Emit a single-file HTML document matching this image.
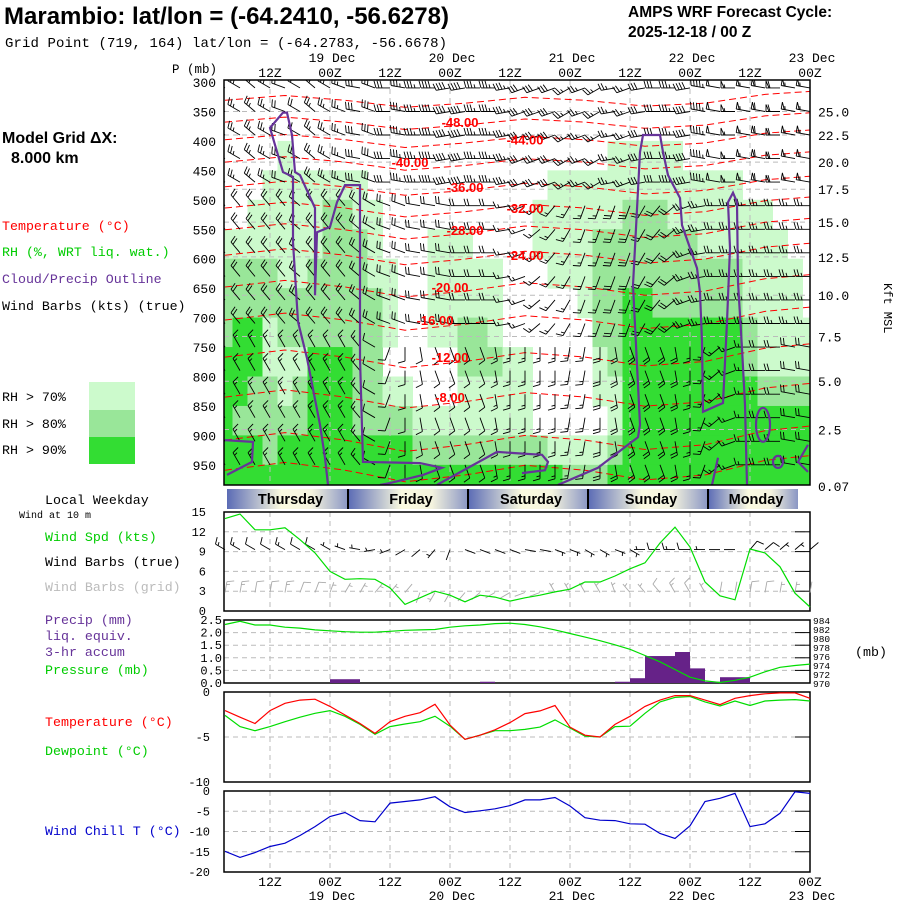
<!DOCTYPE html>
<html><head><meta charset="utf-8"><style>
body{margin:0;background:#fff}
svg{display:block}
text{font-family:"Liberation Mono",monospace}
</style></head><body>
<svg id="c" width="900" height="900" viewBox="0 0 900 900" xmlns="http://www.w3.org/2000/svg">
<rect width="900" height="900" fill="#fff"/>
<g>
<text x="4" y="24" style="font-family:'Liberation Sans',sans-serif;font-weight:bold;font-size:24px" textLength="445">Marambio:  lat/lon = (-64.2410, -56.6278)</text>
<text x="5" y="47" font-size="14" textLength="442">Grid Point (719, 164) lat/lon = (-64.2783, -56.6678)</text>
<text x="628" y="17" style="font-family:'Liberation Sans',sans-serif;font-weight:bold;font-size:15.5px">AMPS WRF Forecast Cycle:</text>
<text x="628" y="37" style="font-family:'Liberation Sans',sans-serif;font-weight:bold;font-size:15.5px">2025-12-18 / 00  Z</text>
<text x="172" y="73" font-size="12.5">P (mb)</text>
</g>
<g font-size="13.3">
<text x="2" y="143" style="font-family:'Liberation Sans',sans-serif;font-weight:bold;font-size:16px">Model Grid ΔX:</text>
<text x="11" y="163" style="font-family:'Liberation Sans',sans-serif;font-weight:bold;font-size:16px">8.000 km</text>
<text x="2" y="230" fill="#f00">Temperature (°C)</text>
<text x="2" y="256" fill="#0c0">RH (%, WRT liq. wat.)</text>
<text x="2" y="283" fill="#639">Cloud/Precip Outline</text>
<text x="2" y="310">Wind Barbs (kts) (true)</text>
<text x="2" y="401">RH &gt; 70%</text>
<text x="2" y="428">RH &gt; 80%</text>
<text x="2" y="454">RH &gt; 90%</text>
<rect x="89" y="382" width="46" height="28" fill="#ccfacc"/>
<rect x="89" y="410" width="46" height="27" fill="#99e699"/>
<rect x="89" y="437" width="46" height="27" fill="#33dd33"/>
<text x="45" y="504">Local Weekday</text>
<text x="19" y="518" font-size="10">Wind at 10 m</text>
<text x="45" y="541" fill="#0c0">Wind Spd (kts)</text>
<text x="45" y="566">Wind Barbs (true)</text>
<text x="45" y="591" fill="#bbb">Wind Barbs (grid)</text>
<text x="45" y="624" fill="#639">Precip (mm)</text>
<text x="45" y="640" fill="#639">liq. equiv.</text>
<text x="45" y="656" fill="#639">3-hr accum</text>
<text x="45" y="674" fill="#0c0">Pressure (mb)</text>
<text x="45" y="726" fill="#f00">Temperature (°C)</text>
<text x="45" y="755" fill="#0c0">Dewpoint (°C)</text>
<text x="45" y="835" fill="#00c">Wind Chill T (°C)</text>
<text x="855" y="656">(mb)</text>
<text x="0" y="0" font-size="12" transform="translate(884,283) rotate(90)">Kft MSL</text>
</g>
<g id="main"></g>
</svg>
<script>
// ---------- data ----------
const hoursStep = 3; // 40 forecast times, 03Z 18 Dec .. 00Z 23 Dec
const pressureTicks = [300,350,400,450,500,550,600,650,700,750,800,850,900,950];
const kftLabels = ["25.0","22.5","20.0","17.5","15.0","12.5","10.0","7.5","5.0","2.5","0.07"];
const kftPressure = [350,390,436,482,538,597,662,732,808,890,986];
const topHourLabels = ["12Z","00Z","12Z","00Z","12Z","00Z","12Z","00Z","12Z","00Z"];
const gridHours = [9,21,33,45,57,69,81,93,105,117];
const dateLabels = ["19 Dec","20 Dec","21 Dec","22 Dec","23 Dec"];
const dateHours = [21,45,69,93,117];
const weekdays = ["Thursday","Friday","Saturday","Sunday","Monday"];
const weekdayStart = [0.4,24.6,48.6,72.6,96.6];
const weekdayEnd = [24.6,48.6,72.6,96.6,114.6];
// RH category per column (k = 50 mb band from 300 mb)
const rhGrid = ["00000122233333","00000122333233","00001122332233","00011122112223","00111112211233",
"00011112212233","00011122233333","00012222233333","00012222233333","00011222222233",
"00001112222233","00000011101233","00000000001233","00000000000123","00000111100123",
"00000111100123","00000111221123","00000011221123","00000011121123","00000000011123",
"00000000011123","00001100000023","00011110000013","00011110000012","00011111000012",
"00011222211012","00111222221123","00112223333333","00112223333333","00112222333333",
"00111222333333","00011222333333","00011122333333","00011122333333","00011122333333",
"00001111223333","00001111112333","00000111112333","00000011112333","00000000112333"];
// isotherms
const isoLevels = [-52,-48,-44,-40,-36,-32,-28,-24,-20,-16,-12,-8,-4,0];
const isoPressure = [331,368,398,436,478,514,551,594,648,704,767,835,908,959];
const isoAnchorHours = [0,12,24,36,48,60,72,84,96,108,117];
const isoWiggle = [0,-8,0,12,5,-5,0,10,5,-10,-15];
const isoLabelLevels = [-48,-44,-40,-36,-32,-28,-24,-20,-16,-12,-8];
const isoLabelHours = [47,60,37,48,60,48,60,45,42,45,45];
// cloud outlines [hour, pressure]
const cloudA = [[0,908],[5.6,911],[5.4,945],[0.4,967]];
const cloudB = [[20.6,984],[20,938],[19,882],[16.4,769],[14.6,707],[13.6,572],[13.6,461],[11.6,453],[9,378],[11.6,352],[12.4,352],[13.4,390],[14,453],[15,458],[18,514],[18,555],[18,662],[18.4,555],[21,546],[22.4,504],[24,475],[27,475],[27,769],[27.6,945],[39,947],[43.4,955],[39.6,967],[33,981],[31,984]];
const cloudC = [[42.4,984],[54.4,928],[58,930],[63.4,933],[64.6,945],[64,959],[59.4,964]];
const cloudD = [[66.6,984],[74.6,955],[80.6,916],[82.6,903],[83,882],[81.6,645],[83,419],[83.6,390],[87,390],[87.6,419],[88.6,458],[91,497],[91.4,543],[94.4,616],[95,657],[95.4,741],[95.6,860],[99.6,845],[100.4,707],[101,582],[100.6,504],[101.6,488],[102.4,504],[102.6,640],[103.4,752],[104,848],[104.4,984]];
const cloudE = [[98.6,938],[97.4,984]];
const cloudF = [[116.6,916],[114.6,945],[116.6,962]];
// upper-air winds per column (deg from, kts) for 3 layers
const upDir = [300,300,310,300,290,300,310,300,290,280,290,270,280,270,270,260,260,270,270,260,250,250,250,240,250,240,260,250,260,270,270,260,280,280,270,280,280,270,280,280];
const upSpd = [25,25,25,25,20,20,25,25,25,30,30,30,35,35,40,40,40,35,35,35,30,30,30,25,25,25,25,25,30,30,35,40,45,50,55,55,60,60,55,55];
const midDir = [320,320,320,320,320,310,320,320,320,310,300,290,290,280,280,280,270,270,270,260,250,230,220,210,200,200,200,200,210,220,230,250,260,270,270,270,270,270,270,270];
const midSpd = [20,20,20,20,20,20,20,20,20,20,20,20,20,20,20,20,20,20,20,15,15,15,15,15,15,15,20,20,20,20,20,25,25,25,25,25,25,25,25,25];
const lowDir = [330,330,330,330,330,330,330,330,330,320,300,200,180,170,160,160,160,160,170,180,180,180,180,190,190,180,170,160,160,160,170,180,200,230,250,270,270,270,280,280];
const lowSpd = [15,15,15,15,15,15,15,15,15,15,10,10,10,10,10,10,10,10,15,15,15,15,15,15,15,20,20,20,20,20,20,15,15,15,15,15,20,20,20,20];
// surface series (40 times)
const windSpd = [14,14.7,12.3,12.3,12.6,10.8,8.8,6,4.8,4.9,4.8,3.5,1,2,3,2.4,1.4,2.4,2.1,1.5,2,2.4,2.9,3.3,4.4,4.4,5.3,6.4,7.3,10.3,12.7,9.7,4.4,2.3,1.7,9.4,8.8,6.7,2.7,0.6];
const windDir10 = [300,300,300,300,300,300,300,300,290,280,260,250,240,230,220,200,110,110,110,110,100,100,110,110,120,120,110,120,270,270,270,270,270,270,270,40,50,50,50,50];
const windDirGrid = [10,10,10,10,10,20,20,20,30,30,40,40,40,200,210,210,220,230,240,240,250,250,330,330,330,330,340,320,320,320,330,330,330,10,10,10,10,10,10,10];
const pressure = [983.0,983.7,982.9,982.9,982.4,982.2,981.8,981.6,981.4,981.3,981.3,981.5,981.7,981.8,981.9,982.4,982.7,982.9,983.2,983.3,983.0,982.5,981.8,981.0,980.2,979.4,978.5,977.5,976.1,974.7,973.0,971.3,970.5,970.1,970.6,971.3,972.5,973.5,973.9,974.2];
const precip = [0,0,0,0,0,0,0,0,0.15,0.15,0,0,0,0,0,0,0,0,0.05,0,0,0,0,0,0,0,0,0.05,0.19,1.07,1.07,1.23,0.58,0.05,0.23,0.23,0,0,0,0];
const temperature = [-2.07,-2.8,-3.5,-2.07,-1.26,-0.9,-0.8,-1.6,-2.56,-3.5,-4.6,-3.3,-2.7,-2.3,-1.37,-3.67,-5.26,-4.8,-4.2,-3.4,-2.4,-2.1,-1.5,-3.9,-4.8,-5.0,-3.6,-2.7,-1.6,-0.9,-0.4,-0.4,-0.9,-1.4,-0.7,-0.4,-0.2,-0.1,-0.1,-0.7];
const dewpoint = [-2.6,-3.85,-4.3,-3.85,-3.3,-2.8,-2.37,-2.07,-2.7,-3.6,-4.7,-3.85,-3.55,-3.3,-2.7,-3.8,-5.26,-4.8,-4.3,-4.3,-4.15,-3.9,-3.1,-4.0,-4.9,-5.0,-3.85,-3.8,-2.37,-1.1,-0.6,-0.5,-1.1,-1.55,-1.0,-1.5,-1.0,-0.9,-0.85,-1.0];
const windChill = [-14.9,-16.4,-15.2,-13.7,-12.9,-11.0,-8.8,-6.3,-5.3,-7.3,-7.6,-3.0,-2.6,-2.2,-1.4,-3.9,-5.3,-4.9,-4.4,-3.6,-2.2,-2.2,-1.6,-3.7,-6.6,-7.2,-7.3,-8.1,-8.2,-10.5,-11.7,-8.6,-2.6,-1.8,-0.6,-8.8,-8.1,-5.5,-0.2,-0.6];
const windTicks = [0,3,6,9,12,15];
const precipTicks = ["0.0","0.5","1.0","1.5","2.0","2.5"];
const presTicks = [970,972,974,976,978,980,982,984];
const tempTicks = [0,-5,-10];
const chillTicks = [0,-5,-10,-15,-20];

// ---------- scales ----------
const L=225, R=810;
const X = h => L + 5*h;
const Ym = p => 82 + (p-300)*0.589;
const Yw = v => 611 - v*6.6;
const Yp = mm => 683 - mm*25.2;
const Ypr = mb => 683 - (mb-970)*4.5;
const Yt = t => 692 - 9*t;
const Yc = t => 791 - 4.05*t;
const NS="http://www.w3.org/2000/svg";
const root=document.getElementById('main');
function el(tag, attrs, parent){const e=document.createElementNS(NS,tag);for(const k in attrs)e.setAttribute(k,attrs[k]);(parent||root).appendChild(e);return e;}

// ---------- main cross-section ----------
const gMain=el('g',{});


const clip=el('clipPath',{id:'mc'},gMain);el('rect',{x:224,y:80,width:586,height:405},clip);
const rhColors=['none','#ccfacc','#99e699','#33dd33'];
const gRH=el('g',{'clip-path':'url(#mc)'},gMain);


rhGrid.forEach((col,i)=>{
  for(let k=0;k<col.length;k++){
    const c=+col[k]; if(!c) continue;
    const x=X(i*hoursStep)-7.5, y0=Ym(300+50*k), y1=Ym(350+50*k);
    const r=el('rect',{x:x,y:y0,width:15.5,height:y1-y0+0.5,fill:rhColors[c]},gRH);
    
    
  }
});
// grid
const gGrid=el('g',{stroke:'#bbb','stroke-dasharray':'5,4','stroke-width':1},gMain);


gridHours.slice(0,9).forEach(h=>el('line',{x1:X(h),x2:X(h),y1:80,y2:485},gGrid));
kftPressure.slice(0,10).forEach(p=>el('line',{x1:224,x2:810,y1:Ym(p),y2:Ym(p)},gGrid));
// isotherms
const gIso=el('g',{'clip-path':'url(#mc)',fill:'none',stroke:'#f00','stroke-width':1,'stroke-dasharray':'7,4'},gMain);


isoLevels.forEach((lv,j)=>{
  const pts=isoAnchorHours.map((h,a)=>X(h)+','+Ym(isoPressure[j]+isoWiggle[a]*(1+j*0.05)).toFixed(1));
  const pl=el('polyline',{points:pts.join(' ')},gIso);
  
  
});
// barbs
function barb(g,x,y,dir,spd,color,len){
  const a=dir*Math.PI/180, dx=Math.sin(a), dy=-Math.cos(a);
  const ex=x+dx*len, ey=y+dy*len;
  let d=`M${x.toFixed(1)},${y.toFixed(1)}L${ex.toFixed(1)},${ey.toFixed(1)}`;
  const px=-dy, py=dx;
  let s=Math.round(spd/5)*5, pos=0;
  while(s>=50){const bx=ex-dx*pos, by=ey-dy*pos;d+=`M${bx.toFixed(1)},${by.toFixed(1)}L${(bx+px*7).toFixed(1)},${(by+py*7).toFixed(1)}L${(bx-dx*3).toFixed(1)},${(by-dy*3).toFixed(1)}`;pos+=4;s-=50;}
  while(s>=10){const bx=ex-dx*pos, by=ey-dy*pos;d+=`M${bx.toFixed(1)},${by.toFixed(1)}L${(bx+px*7+dx*2).toFixed(1)},${(by+py*7+dy*2).toFixed(1)}`;pos+=3;s-=10;}
  if(s>=5){if(pos===0)pos=3;const bx=ex-dx*pos, by=ey-dy*pos;d+=`M${bx.toFixed(1)},${by.toFixed(1)}L${(bx+px*3.5+dx).toFixed(1)},${(by+py*3.5+dy).toFixed(1)}`;}
  const p=el('path',{d:d,stroke:color,fill:'none','stroke-width':0.9},g);
  
  
}
const gBarb=el('g',{'clip-path':'url(#mc)'},gMain);


for(let i=0;i<40;i++){
  for(let p=310;p<=970;p+=40){
    let dir,spd;
    if(p<500){dir=upDir[i];spd=upSpd[i];}else if(p<750){dir=midDir[i];spd=midSpd[i];}else{dir=lowDir[i];spd=lowSpd[i];}
    barb(gBarb,X(i*hoursStep),Ym(p),dir,spd,'#000',14);
  }
}
// cloud outlines
const gCloud=el('g',{'clip-path':'url(#mc)',fill:'none',stroke:'#639','stroke-width':2.2},gMain);


[cloudA,cloudB,cloudC,cloudD,cloudE,cloudF].forEach(c=>{
  const pl=el('polyline',{points:c.map(q=>X(q[0])+','+Ym(q[1]).toFixed(1)).join(' ')},gCloud);
  
  
});
const ell=el('ellipse',{cx:X(107.6),cy:Ym(882),rx:7,ry:17},gCloud);


const ell2=el('ellipse',{cx:X(110.6),cy:Ym(945),rx:5,ry:6},gCloud);


// isotherm labels
isoLabelLevels.forEach((lv,j)=>{
  const idx=isoLevels.indexOf(lv);
  const t=el('text',{x:X(isoLabelHours[j]),y:Ym(isoPressure[idx])+5,fill:'#f00','font-size':13,'font-weight':'bold','text-anchor':'middle',style:"font-family:'Liberation Sans',sans-serif"},gMain);
  t.textContent=lv.toFixed(2);
  
  
});
const fr=el('rect',{x:224,y:80,width:586,height:405,fill:'none',stroke:'#000','stroke-width':1.5},gMain);


// axes labels
pressureTicks.forEach(p=>{
  const t=el('text',{x:216,y:Ym(p)+5,'text-anchor':'end','font-size':13});
  t.textContent=p;
  
  
});
kftLabels.forEach((lb,j)=>{
  const t=el('text',{x:818,y:Ym(kftPressure[j])+5,'font-size':13});
  t.textContent=lb;
  
  
});
function timeLabels(yh,yd){
  gridHours.forEach((h,j)=>{
    const t=el('text',{x:X(h),y:yh,'text-anchor':'middle','font-size':13});
    t.textContent=topHourLabels[j];
    
    
  });
  dateHours.forEach((h,j)=>{
    const t=el('text',{x:X(h)+2,y:yd,'text-anchor':'middle','font-size':13});
    t.textContent=dateLabels[j];
    
    
  });
}
timeLabels(77,62);
timeLabels(886,900);

// ---------- weekday bar ----------
const defs=el('defs',{});
const lg=el('linearGradient',{id:'wd',x1:0,x2:1,y1:0,y2:0},defs);
el('stop',{offset:'0','stop-color':'#5b6bb5'},lg);
el('stop',{offset:'0.45','stop-color':'#fbfbe0'},lg);
el('stop',{offset:'0.7','stop-color':'#f4f3de'},lg);
el('stop',{offset:'1','stop-color':'#8a96c4'},lg);
const gWd=el('g',{});


el('rect',{x:227,y:489,width:X(weekdayEnd[4])-227,height:20,fill:'#5b6bb5'},gWd);
weekdays.forEach((w,j)=>{
  const x0=X(weekdayStart[j]),x1=X(weekdayEnd[j]);
  const r=el('rect',{x:x0,y:489,width:x1-x0,height:20,fill:'url(#wd)'},gWd);
  
  
  if(j>0)el('line',{x1:x0,x2:x0,y1:489,y2:509,stroke:'#000','stroke-width':2},gWd);
  const t=el('text',{x:(x0+x1)/2+3,y:504,'text-anchor':'middle','font-size':14.5,'font-weight':'bold',style:"font-family:'Liberation Sans',sans-serif"},gWd);
  t.textContent=w;
  
  
});

// ---------- bottom panels ----------
function panel(name,top,bot,hTicks,yfn){
  const g=el('g',{});
  
  
  const gg=el('g',{stroke:'#bbb','stroke-dasharray':'5,4'},g);
  gridHours.slice(0,9).forEach(h=>el('line',{x1:X(h),x2:X(h),y1:top,y2:bot},gg));
  hTicks.forEach(v=>{const y=yfn(v);if(y>top+1&&y<bot-1){el('line',{x1:224,x2:810,y1:y,y2:y},gg);el('line',{x1:795,x2:810,y1:y,y2:y,stroke:'#000','stroke-dasharray':'none'},g);}});
  el('rect',{x:224,y:top,width:586,height:bot-top,fill:'none',stroke:'#000','stroke-width':1.5},g);
  return g;
}
function line(g,vals,yfn,color,name){
  const pl=el('polyline',{points:vals.map((v,i)=>X(i*hoursStep)+','+yfn(v).toFixed(1)).join(' '),fill:'none',stroke:color,'stroke-width':1.2},g);
  
  
}
function ticks(vals,labels,yfn,x,anchor,fs){
  vals.forEach((v,j)=>{
    const t=el('text',{x:x,y:yfn(v)+4,'text-anchor':anchor,'font-size':fs||12});
    t.textContent=labels?labels[j]:v;
    
    
  });
}
// wind panel
const gW=panel('wind-panel',512,611,windTicks,Yw);
for(let i=0;i<40;i++){
  barb(gW,X(i*hoursStep),Yw(9.3),windDir10[i],windSpd[i],'#000',11);
  barb(gW,X(i*hoursStep),Yw(2.8),windDirGrid[i],windSpd[i],'#aaa',11);
}
line(gW,windSpd,Yw,'#0d0','wind-speed-line');
ticks(windTicks,null,Yw,206,'end',12);
// precip/pressure panel
const gP=panel('precip-panel',620,683,[0,0.5,1,1.5,2,2.5],Yp);
precip.forEach((v,i)=>{
  if(v<=0)return;
  const r=el('rect',{x:X((i-1)*hoursStep),y:Yp(v),width:15,height:683-Yp(v),fill:'#662288'},gP);
  
  
});
line(gP,pressure,Ypr,'#0d0','pressure-line');
ticks([0,0.5,1,1.5,2,2.5],precipTicks,Yp,222,'end',12);
ticks(presTicks,null,Ypr,813,'start',9.5);
// temperature panel
const gT=panel('temperature-panel',692,782,tempTicks,Yt);
line(gT,dewpoint,Yt,'#0d0','dewpoint-line');
line(gT,temperature,Yt,'#f00','temperature-line');
ticks(tempTicks,null,Yt,210,'end',12);
// wind chill panel
const gC=panel('windchill-panel',791,872,chillTicks,Yc);
line(gC,windChill,Yc,'#00c','windchill-line');
ticks(chillTicks,null,Yc,210,'end',12);
</script>
</body></html>
